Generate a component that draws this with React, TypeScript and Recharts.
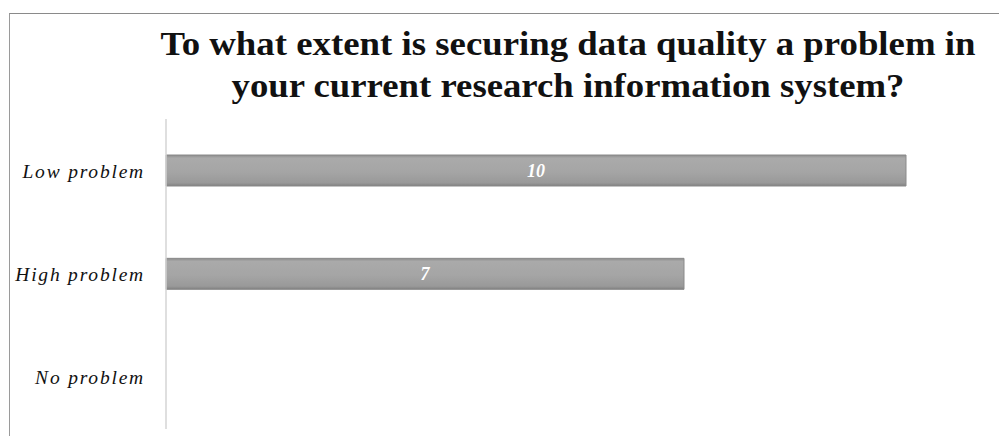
import React from 'react';
import { BarChart, Bar, XAxis, YAxis, LabelList } from 'recharts';

const categories = ['Low problem', 'High problem', 'No problem'];
const counts = [10, 7, 0];
const titleLines = [
  'To what extent is securing data quality a problem in',
  'your current research information system?',
];

const data = categories.map((name, i) => ({ name, count: counts[i] }));

const serif = '"Liberation Serif", "DejaVu Serif", serif';

function CategoryTick(props: any) {
  const { x, y, payload } = props;
  return (
    <text
      x={x}
      y={y}
      dx={2}
      dy={7}
      textAnchor="end"
      fontFamily={serif}
      fontStyle="italic"
      fontSize={19.5}
      letterSpacing={1.8}
      fill="#111"
    >
      {payload.value}
    </text>
  );
}

export default function App() {
  return (
    <div style={{ position: 'absolute', left: 0, top: 0, width: 999, height: 436, background: '#fff' }}>
      {/* frame of the original slide */}
      <div style={{ position: 'absolute', left: 9, top: 13, width: 990, height: 423, borderTop: '1.5px solid #8a8a8a', borderLeft: '1.5px solid #9a9a9a' }} />

      <svg width={999} height={115} style={{ position: 'absolute', left: 0, top: 0 }}>
        <text x={568} y={55} textAnchor="middle" fontFamily={serif} fontWeight="bold" fontSize={33} textLength={815} lengthAdjust="spacingAndGlyphs" fill="#111">
          {titleLines[0]}
        </text>
        <text x={568} y={97} textAnchor="middle" fontFamily={serif} fontWeight="bold" fontSize={33} textLength={673} lengthAdjust="spacingAndGlyphs" fill="#111">
          {titleLines[1]}
        </text>
      </svg>

      <div style={{ position: 'absolute', left: 0, top: 0 }}>
        <BarChart
          width={999}
          height={436}
          data={data}
          layout="vertical"
          margin={{ top: 119, right: 93, bottom: 7, left: 0 }}
          barSize={31}
        >
          <defs>
            <linearGradient id="barFill" x1="0" y1="0" x2="0" y2="1">
              <stop offset="0%" stopColor="#8c8c8c" />
              <stop offset="10%" stopColor="#aaaaaa" />
              <stop offset="55%" stopColor="#a5a5a5" />
              <stop offset="90%" stopColor="#999999" />
              <stop offset="100%" stopColor="#808080" />
            </linearGradient>
          </defs>
          <XAxis type="number" domain={[0, 10]} hide />
          <YAxis
            type="category"
            dataKey="name"
            width={166}
            axisLine={{ stroke: '#d4d4d4', strokeWidth: 1.5 }}
            tickLine={false}
            tickSize={0}
            tickMargin={23}
            tick={<CategoryTick />}
          />
          <Bar dataKey="count" fill="url(#barFill)" stroke="#8a8a8a" strokeWidth={1} isAnimationActive={false}>
            <LabelList
              dataKey="count"
              position="center"
              fill="#fff"
              fontFamily={serif}
              fontStyle="italic"
              fontWeight="bold"
              fontSize={18}
            />
          </Bar>
        </BarChart>
      </div>
    </div>
  );
}
